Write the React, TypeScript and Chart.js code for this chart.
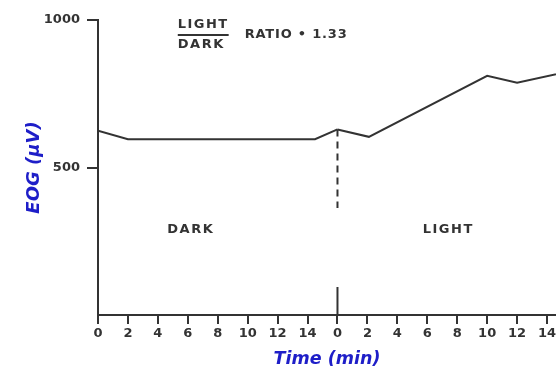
import React, { useEffect, useRef } from "react";
import { Chart, registerables } from "chart.js";

Chart.register(...registerables);

// Time axis: dark period 0–16 min, light period 16–32 min (labels restart at 0)
const darkTimes = [0, 2, 14.5, 16];
const darkValues = [625, 596, 596, 629];
const lightTimes = [16, 18.1, 26, 28, 32];
const lightValues = [629, 604, 811, 787, 832];
const switchTimes = [16, 16];
const switchDashedValues = [629, 363];
const switchBaseValues = [0, 95];
const yTickValues = [500, 1000];
const xTickValues = [0, 2, 4, 6, 8, 10, 12, 14, 16, 18, 20, 22, 24, 26, 28, 30];
const periodLength = 16;
const xMax = 30.6;
const yMax = 1000;

const INK = "#333";
const BLUE = "#1e1ec8";
const FONT = '"DejaVu Sans", "Liberation Sans", sans-serif';

const pts = (xs: number[], ys: number[]) => xs.map((x, i) => ({ x, y: ys[i] }));

const annotations = {
  id: "annotations",
  afterDraw(chart: any) {
    const { ctx } = chart;
    const x = chart.scales.x;
    const y = chart.scales.y;
    ctx.save();
    ctx.fillStyle = INK;
    ctx.strokeStyle = INK;
    ctx.font = `bold 13px ${FONT}`;
    try { (ctx as any).letterSpacing = "1.5px"; } catch (e) {}
    ctx.textBaseline = "middle";
    ctx.textAlign = "center";
    ctx.fillText("DARK", x.getPixelForValue(6.2), y.getPixelForValue(288));
    ctx.fillText("LIGHT", x.getPixelForValue(23.4), y.getPixelForValue(288));
    ctx.fillText("LIGHT", x.getPixelForValue(7.03), y.getPixelForValue(986));
    ctx.fillText("DARK", x.getPixelForValue(6.9), y.getPixelForValue(915));
    ctx.lineWidth = 2;
    ctx.beginPath();
    const ly = y.getPixelForValue(949);
    ctx.moveTo(x.getPixelForValue(5.33), ly);
    ctx.lineTo(x.getPixelForValue(8.73), ly);
    ctx.stroke();
    try { (ctx as any).letterSpacing = "0.8px"; } catch (e) {}
    ctx.textAlign = "left";
    ctx.fillText("RATIO \u2022 1.33", x.getPixelForValue(9.8), y.getPixelForValue(952));
    ctx.restore();
  },
};

export default function App() {
  const ref = useRef<HTMLCanvasElement | null>(null);
  useEffect(() => {
    if (!ref.current) return;
    const lineStyle = {
      borderColor: INK,
      borderWidth: 2,
      pointRadius: 0,
      tension: 0,
      fill: false,
    };
    const chart = new Chart(ref.current, {
      type: "line",
      data: {
        datasets: [
          { ...lineStyle, data: pts(darkTimes, darkValues) },
          { ...lineStyle, data: pts(lightTimes, lightValues) },
          { ...lineStyle, borderDash: [7, 5], data: pts(switchTimes, switchDashedValues) },
          { ...lineStyle, data: pts(switchTimes, switchBaseValues) },
        ],
      },
      options: {
        animation: false,
        responsive: false,
        layout: { padding: { top: 12, right: 0, left: 0, bottom: 0 } },
        plugins: { legend: { display: false }, tooltip: { enabled: false } },
        scales: {
          x: {
            type: "linear",
            min: 0,
            max: xMax,
            afterBuildTicks: (s: any) => { s.ticks = xTickValues.map((v) => ({ value: v })); },
            afterFit: (s: any) => { s.height = 56; s.paddingRight = 0; s.paddingLeft = 0; },
            grid: { display: true, drawOnChartArea: false, drawTicks: true, tickLength: 9, color: INK, lineWidth: 2 },
            border: { display: true, color: INK, width: 2 },
            ticks: {
              autoSkip: false,
              maxRotation: 0,
              padding: 2,
              color: INK,
              font: { family: FONT, size: 13, weight: "bold" },
              callback: (v: any) => String(Number(v) % periodLength),
            },
            title: {
              display: true,
              text: "Time (min)",
              color: BLUE,
              font: { family: FONT, size: 17.5, weight: "bold", style: "italic" },
              padding: { top: 0, bottom: 1 },
            },
          },
          y: {
            type: "linear",
            min: 0,
            max: yMax,
            afterBuildTicks: (s: any) => { s.ticks = yTickValues.map((v) => ({ value: v })); },
            afterFit: (s: any) => { s.width = 90; s.paddingTop = 0; s.paddingBottom = 0; },
            grid: { display: true, drawOnChartArea: false, drawTicks: true, tickLength: 11, color: INK, lineWidth: 2 },
            border: { display: true, color: INK, width: 2 },
            ticks: {
              padding: 7,
              color: INK,
              font: { family: FONT, size: 13, weight: "bold" },
              callback: (v: any) => String(v),
            },
            title: {
              display: true,
              text: "EOG (\u03bcV)",
              color: BLUE,
              font: { family: FONT, size: 18, weight: "bold", style: "italic" },
              padding: { top: 16, bottom: 0 },
            },
          },
        },
      },
      plugins: [annotations],
    } as any);
    return () => chart.destroy();
  }, []);
  return (
    <div style={{ position: "absolute", left: 8, top: 8, width: 548, height: 363 }}>
      <canvas ref={ref} width={548} height={363} style={{ display: "block" }} />
    </div>
  );
}
